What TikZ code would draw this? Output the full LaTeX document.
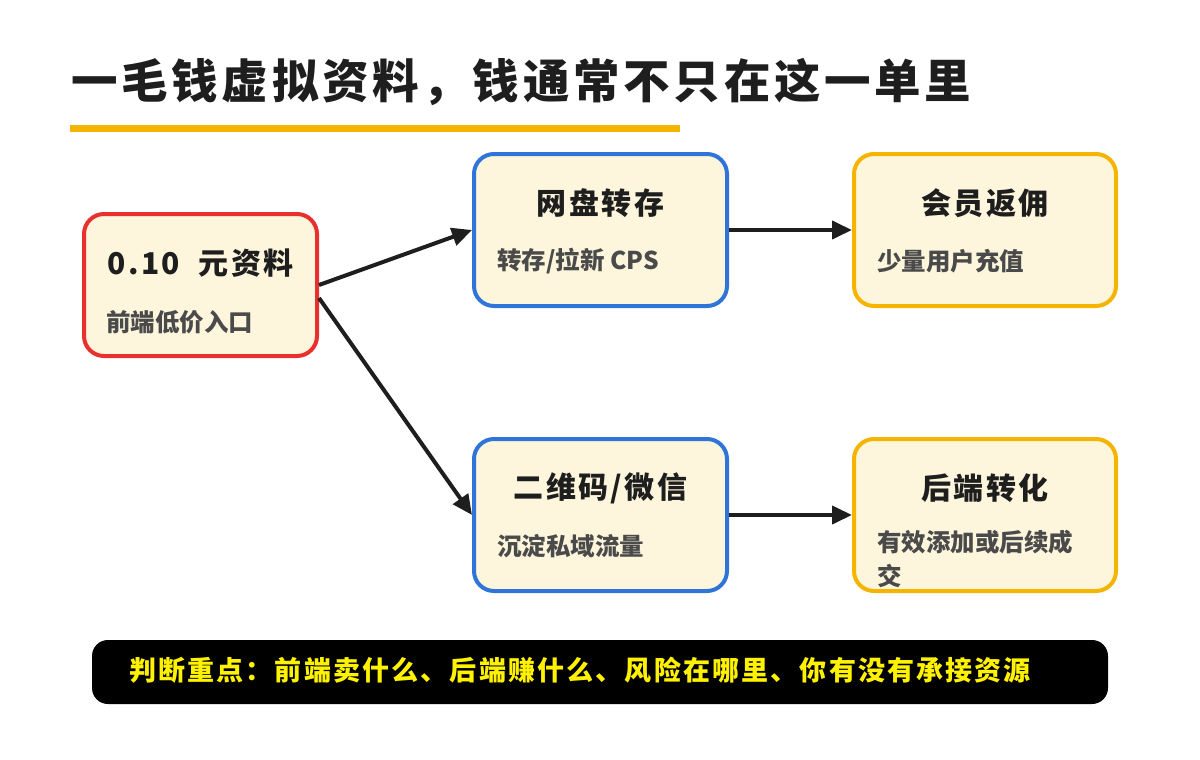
\documentclass[tikz,border=0pt]{standalone}
\usepackage{fontspec}
\setmainfont{Noto Sans CJK SC}
\newfontfamily\cjkhead[LetterSpace=8]{Noto Sans CJK SC}
\usetikzlibrary{arrows.meta}
\definecolor{cream}{HTML}{FDF6DC}
\definecolor{redline}{HTML}{E8302E}
\definecolor{blueline}{HTML}{2F74D9}
\definecolor{goldline}{HTML}{F5B400}
\definecolor{ink}{HTML}{1E1E1E}
\definecolor{greytext}{HTML}{4A4A4A}
\definecolor{bartext}{HTML}{FFF200}
\begin{document}
\begin{tikzpicture}[x=1pt,y=-1pt,
	card/.style={draw=#1,line width=4pt,fill=cream,rounded corners=20pt,inner sep=0pt},
	cardtitle/.style={inner sep=0pt,text=ink,font=\cjkhead\fontsize{30pt}{30pt}\selectfont\bfseries},
	cardtext/.style={inner sep=0pt,anchor=west,align=left,text=greytext,font=\fontsize{24.5pt}{34pt}\selectfont\bfseries},
	link/.style={draw=ink,line width=4pt,-{Triangle[length=20pt,width=18pt]}}]
	\useasboundingbox (0,0) rectangle (1200,760);
	\node[anchor=west,inner sep=0pt,text=ink,font=\cjkhead\fontsize{46.5pt}{46.5pt}\selectfont\bfseries] (title) at (71,82) {一毛钱虚拟资料，钱通常不只在这一单里};
	\fill[goldline] (70,125) rectangle (680,132);
	\node[card=redline,minimum width=233pt,minimum height=142pt] (low) at (200.5,285) {};
	\node[cardtitle] (lowt) at (200.5,263) {0.10\ \ 元资料};
	\node[cardtext] (lowd) at (106,322) {前端低价入口};
	\node[card=blueline,minimum width=253pt,minimum height=152pt] (pan) at (600.5,230) {};
	\node[cardtitle] (pant) at (600.5,203) {网盘转存};
	\node[cardtext] (pand) at (497,261) {转存/拉新 CPS};
	\node[card=goldline,minimum width=262pt,minimum height=152pt] (vip) at (985,230) {};
	\node[cardtitle] (vipt) at (985,203) {会员返佣};
	\node[cardtext] (vipd) at (877,261) {少量用户充值};
	\node[card=blueline,minimum width=253pt,minimum height=152pt] (qr) at (600.5,515) {};
	\node[cardtitle] (qrt) at (600.5,488) {二维码/微信};
	\node[cardtext] (qrd) at (497,546) {沉淀私域流量};
	\node[card=goldline,minimum width=262pt,minimum height=152pt] (back) at (985,515) {};
	\node[cardtitle] (backt) at (985,488) {后端转化};
	\node[cardtext,anchor=north west] (backd) at (877,530) {有效添加或后续成\\交};
	\draw[link] (low.east) -- (pan.west);
	\draw[link] ([yshift=-13pt]low.east) -- (qr.west);
	\draw[link] (pan.east) -- (vip.west);
	\draw[link] (qr.east) -- (back.west);
	\node[fill=black,rounded corners=16pt,minimum width=1016pt,minimum height=64pt,inner sep=0pt] (bar) at (600,672) {};
	\node[anchor=west,inner sep=0pt,text=bartext,font=\cjkhead\fontsize{27pt}{27pt}\selectfont\bfseries] (bart) at (129,670) {判断重点：前端卖什么、后端赚什么、风险在哪里、你有没有承接资源};
\end{tikzpicture}
\end{document}
